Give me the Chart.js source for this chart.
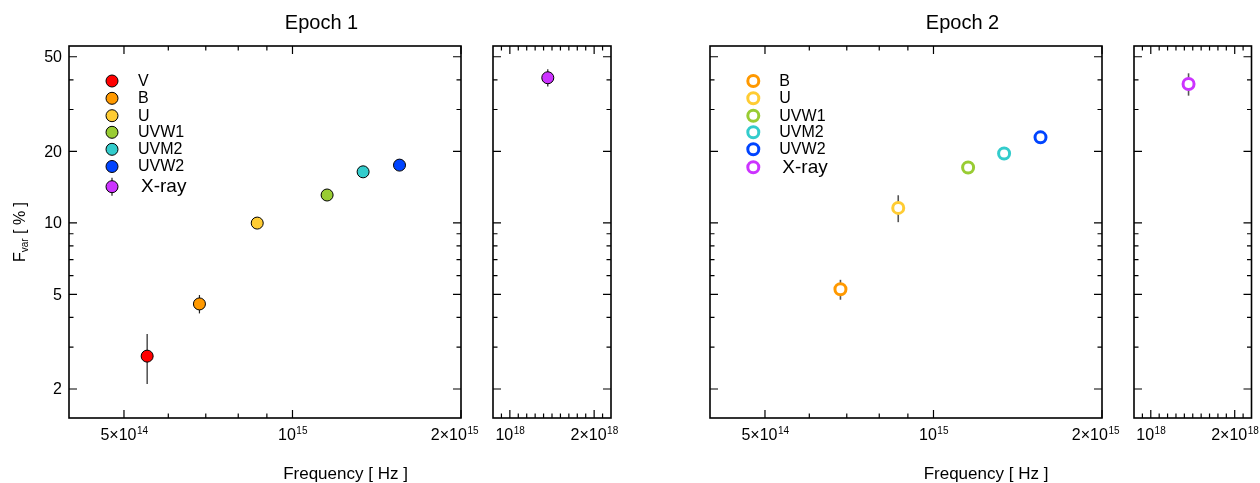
<!DOCTYPE html>
<html>
<head>
<meta charset="utf-8">
<script src="https://cdn.jsdelivr.net/npm/chart.js@4/dist/chart.umd.min.js"></script>
<style>
  html, body { margin: 0; padding: 0; background: #fff; width: 1260px; height: 483px; overflow: hidden; }
  canvas { position: absolute; left: 0; top: 0; }
</style>
</head>
<body>
<canvas id="e1main" width="1260" height="483"></canvas>
<canvas id="e1xray" width="1260" height="483"></canvas>
<canvas id="e2main" width="1260" height="483"></canvas>
<canvas id="e2xray" width="1260" height="483"></canvas>
<script>
// ---- Bands and frequencies (Hz) ----
const bands      = ['V', 'B', 'U', 'UVW1', 'UVM2', 'UVW2'];
const bandColors = ['#ff0000', '#ff9900', '#ffcc33', '#99cc33', '#33cccc', '#0044ff'];
const bandFreq   = [5.5e14, 6.82e14, 8.65e14, 1.153e15, 1.337e15, 1.553e15];
const xrayLabel  = 'X-ray';
const xrayColor  = '#cc33ff';
const xrayFreq   = 1.45e18;

// ---- Fractional variability, Epoch 1 (%) ----
const epoch1Fvar = [2.75, 4.56, 9.98, 13.1, 16.4, 17.5];
const epoch1Lo   = [2.10, 4.16, 9.70, 12.8, 16.1, 17.2];
const epoch1Hi   = [3.41, 4.97, 10.3, 13.4, 16.7, 17.8];
const epoch1Xray   = 40.8;
const epoch1XrayLo = 37.5;
const epoch1XrayHi = 44.3;

// ---- Fractional variability, Epoch 2 (%) (no V band) ----
const epoch2Fvar = [null, 5.26, 11.56, 17.1, 19.6, 22.9];
const epoch2Lo   = [null, 4.75, 10.07, 16.7, 19.2, 22.5];
const epoch2Hi   = [null, 5.76, 13.07, 17.5, 20.0, 23.3];
const epoch2Xray   = 38.4;
const epoch2XrayLo = 34.3;
const epoch2XrayHi = 42.6;

// ---- Axis ticks ----
const yTickValues  = [2, 5, 10, 20, 50];
const yTickLabels  = ['2', '5', '10', '20', '50'];
const yMinorValues = [3, 4, 6, 7, 8, 9, 30, 40];
const optTickValues  = [5e14, 1e15, 2e15];
const optTickLabels  = [['5×10', '14'], ['10', '15'], ['2×10', '15']];
const optMinorValues = [6e14, 7e14, 8e14, 9e14];
const xrTickValues  = [1e18, 2e18];
const xrTickLabels  = [['10', '18'], ['2×10', '18']];
const xrMinorValues = [0.9e18, 1.1e18, 1.2e18, 1.3e18, 1.4e18, 1.5e18, 1.6e18, 1.7e18, 1.8e18, 1.9e18, 2.1e18];

const FONT = '"Liberation Sans", Arial, Helvetica, sans-serif';
const W = 1260, H = 483;
const Y_MIN = 1.51, Y_MAX = 55.5;

function drawSup(ctx, base, exp, cx, baseline, maxRight) {
  ctx.font = '16px ' + FONT;
  const wb = ctx.measureText(base).width;
  ctx.font = '10px ' + FONT;
  const we = ctx.measureText(exp).width;
  let x0 = cx - (wb + we) / 2;
  if (maxRight !== undefined && x0 + wb + we > maxRight) x0 = maxRight - wb - we;
  ctx.fillStyle = '#000';
  ctx.textAlign = 'left';
  ctx.textBaseline = 'alphabetic';
  ctx.font = '16px ' + FONT;
  ctx.fillText(base, x0, baseline);
  ctx.font = '10px ' + FONT;
  ctx.fillText(exp, x0 + wb + 0.5, baseline - 6.5);
}

// Frame, inward ticks on all four sides, error bars, labels
function panelPlugin(cfg) {
  return {
    id: 'panel_' + cfg.key,
    beforeDatasetsDraw(chart) {
      const ctx = chart.ctx, xs = chart.scales.x, ys = chart.scales.y;
      ctx.save();
      ctx.strokeStyle = cfg.errColor;
      ctx.lineWidth = cfg.errWidth;
      cfg.errors.forEach(e => {
        if (e.y == null) return;
        const px = xs.getPixelForValue(e.x);
        ctx.beginPath();
        ctx.moveTo(px, ys.getPixelForValue(e.lo));
        ctx.lineTo(px, ys.getPixelForValue(e.hi));
        ctx.stroke();
      });
      ctx.restore();
    },
    afterDraw(chart) {
      const ctx = chart.ctx, a = chart.chartArea, xs = chart.scales.x, ys = chart.scales.y;
      ctx.save();
      // ticks
      ctx.strokeStyle = '#000';
      ctx.lineWidth = 1.2;
      const vtick = (v, len) => {
        const y = ys.getPixelForValue(v);
        ctx.beginPath();
        ctx.moveTo(a.left, y); ctx.lineTo(a.left + len, y);
        ctx.moveTo(a.right, y); ctx.lineTo(a.right - len, y);
        ctx.stroke();
      };
      const htick = (v, len) => {
        const x = xs.getPixelForValue(v);
        ctx.beginPath();
        ctx.moveTo(x, a.bottom); ctx.lineTo(x, a.bottom - len);
        ctx.moveTo(x, a.top); ctx.lineTo(x, a.top + len);
        ctx.stroke();
      };
      yTickValues.forEach(v => vtick(v, 8));
      yMinorValues.forEach(v => vtick(v, 4.5));
      cfg.xTicks.forEach(v => htick(v, 8));
      cfg.xMinor.forEach(v => htick(v, 4.5));
      // frame
      ctx.lineWidth = 1.6;
      ctx.strokeRect(a.left, a.top, a.right - a.left, a.bottom - a.top);

      // x tick labels
      cfg.xTicks.forEach((v, i) => {
        drawSup(ctx, cfg.xLabels[i][0], cfg.xLabels[i][1], xs.getPixelForValue(v), 440, a.right + 17);
      });

      // y tick labels
      if (cfg.yLabels) {
        ctx.fillStyle = '#000';
        ctx.font = '16px ' + FONT;
        ctx.textAlign = 'right';
        ctx.textBaseline = 'middle';
        yTickValues.forEach((v, i) => ctx.fillText(yTickLabels[i], a.left - 7, ys.getPixelForValue(v) + 1));
      }

      // y axis title F_var [ % ]
      if (cfg.yTitle) {
        ctx.save();
        ctx.translate(25, (a.top + a.bottom) / 2);
        ctx.rotate(-Math.PI / 2);
        ctx.fillStyle = '#000';
        ctx.textAlign = 'left';
        ctx.textBaseline = 'alphabetic';
        ctx.font = '16px ' + FONT; const w1 = ctx.measureText('F').width;
        ctx.font = '10px ' + FONT; const w2 = ctx.measureText('var').width;
        ctx.font = '16px ' + FONT; const w3 = ctx.measureText(' [ % ]').width;
        let x0 = -(w1 + w2 + w3) / 2;
        ctx.font = '16px ' + FONT; ctx.fillText('F', x0, 0);
        ctx.font = '10px ' + FONT; ctx.fillText('var', x0 + w1, 3);
        ctx.font = '16px ' + FONT; ctx.fillText(' [ % ]', x0 + w1 + w2, 0);
        ctx.restore();
      }

      // panel title and x axis title
      if (cfg.title) {
        ctx.fillStyle = '#000';
        ctx.textAlign = 'center';
        ctx.textBaseline = 'alphabetic';
        ctx.font = '20px ' + FONT;
        ctx.fillText(cfg.title, cfg.titleX, 28.5);
        ctx.font = '17px ' + FONT;
        ctx.fillText('Frequency [ Hz ]', cfg.xTitleX, 479);
      }

      // legend
      if (cfg.legend) {
        const L = cfg.legend;
        L.items.forEach((it, i) => {
          const y = L.rows[i];
          ctx.beginPath();
          if (L.open) {
            ctx.arc(L.markerX, y, 5.5, 0, Math.PI * 2);
            ctx.fillStyle = '#fff';
            ctx.fill();
            ctx.lineWidth = 3;
            ctx.strokeStyle = it.color;
            ctx.stroke();
          } else {
            if (it.bar) {
              ctx.strokeStyle = '#222';
              ctx.lineWidth = 1.2;
              ctx.beginPath();
              ctx.moveTo(L.markerX, y - 9); ctx.lineTo(L.markerX, y + 9);
              ctx.stroke();
              ctx.beginPath();
            }
            ctx.arc(L.markerX, y, 6, 0, Math.PI * 2);
            ctx.fillStyle = it.color;
            ctx.fill();
            ctx.lineWidth = 1;
            ctx.strokeStyle = '#000';
            ctx.stroke();
          }
          ctx.fillStyle = '#000';
          ctx.textAlign = 'left';
          ctx.textBaseline = 'middle';
          ctx.font = (it.big ? '19px ' : '16px ') + FONT;
          ctx.fillText(it.label, it.big ? L.textX + 3 : L.textX, y + 0.5);
        });
      }
      ctx.restore();
    }
  };
}

function makePanel(id, area, xScale, datasets, cfg) {
  return new Chart(document.getElementById(id), {
    type: 'scatter',
    data: { datasets },
    options: {
      responsive: false,
      animation: false,
      events: [],
      layout: { padding: { left: area.l, top: area.t, right: W - area.r, bottom: H - area.b } },
      plugins: { legend: { display: false }, tooltip: { enabled: false } },
      scales: {
        x: Object.assign({ display: false }, xScale),
        y: { type: 'logarithmic', min: Y_MIN, max: Y_MAX, display: false }
      }
    },
    plugins: [panelPlugin(cfg)]
  });
}

function bandDatasets(values, filled) {
  return bands.map((b, i) => ({
    label: b,
    data: values[i] == null ? [] : [{ x: bandFreq[i], y: values[i] }],
    pointRadius: filled ? 6 : 5.5,
    pointBorderWidth: filled ? 1 : 3,
    pointBackgroundColor: filled ? bandColors[i] : '#ffffff',
    pointBorderColor: filled ? '#000000' : bandColors[i],
    showLine: false
  }));
}
function xrayDataset(value, filled) {
  return [{
    label: xrayLabel,
    data: [{ x: xrayFreq, y: value }],
    pointRadius: filled ? 6 : 5.5,
    pointBorderWidth: filled ? 1 : 3,
    pointBackgroundColor: filled ? xrayColor : '#ffffff',
    pointBorderColor: filled ? '#000000' : xrayColor,
    showLine: false
  }];
}
function bandErrors(vals, lo, hi) {
  return bands.map((b, i) => ({ x: bandFreq[i], y: vals[i], lo: lo[i], hi: hi[i] }));
}

const optX  = { type: 'logarithmic', min: 3.988e14, max: 2e15 };
const xrayX = { type: 'linear', min: 0.8e18, max: 2.2e18 };
const legendRows = [81, 98.3, 115.7, 132.3, 149.3, 166.5, 186.7];

// Epoch 1
makePanel('e1main', { l: 69, t: 46, r: 461, b: 418 }, optX, bandDatasets(epoch1Fvar, true), {
  key: 'e1m', errColor: '#222', errWidth: 1.2,
  errors: bandErrors(epoch1Fvar, epoch1Lo, epoch1Hi),
  xTicks: optTickValues, xLabels: optTickLabels, xMinor: optMinorValues,
  yLabels: true, yTitle: true,
  title: 'Epoch 1', titleX: 321.5, xTitleX: 345.5,
  legend: {
    open: false, markerX: 112, textX: 138, rows: legendRows,
    items: bands.map((b, i) => ({ label: b, color: bandColors[i] }))
      .concat([{ label: xrayLabel, color: xrayColor, big: true, bar: true }])
  }
});
makePanel('e1xray', { l: 493, t: 46, r: 611, b: 418 }, xrayX, xrayDataset(epoch1Xray, true), {
  key: 'e1x', errColor: '#222', errWidth: 1.2,
  errors: [{ x: xrayFreq, y: epoch1Xray, lo: epoch1XrayLo, hi: epoch1XrayHi }],
  xTicks: xrTickValues, xLabels: xrTickLabels, xMinor: xrMinorValues
});

// Epoch 2
makePanel('e2main', { l: 710, t: 46, r: 1102, b: 418 }, optX, bandDatasets(epoch2Fvar, false), {
  key: 'e2m', errColor: '#555', errWidth: 1.6,
  errors: bandErrors(epoch2Fvar, epoch2Lo, epoch2Hi),
  xTicks: optTickValues, xLabels: optTickLabels, xMinor: optMinorValues,
  title: 'Epoch 2', titleX: 962.5, xTitleX: 986,
  legend: {
    open: true, markerX: 753.3, textX: 779.3, rows: [81, 98.3, 115.7, 132.3, 149.3, 167.3],
    items: bands.slice(1).map((b, i) => ({ label: b, color: bandColors[i + 1] }))
      .concat([{ label: xrayLabel, color: xrayColor, big: true }])
  }
});
makePanel('e2xray', { l: 1134, t: 46, r: 1252, b: 418 }, xrayX, xrayDataset(epoch2Xray, false), {
  key: 'e2x', errColor: '#555', errWidth: 1.6,
  errors: [{ x: xrayFreq, y: epoch2Xray, lo: epoch2XrayLo, hi: epoch2XrayHi }],
  xTicks: xrTickValues, xLabels: xrTickLabels, xMinor: xrMinorValues
});
</script>
</body>
</html>
